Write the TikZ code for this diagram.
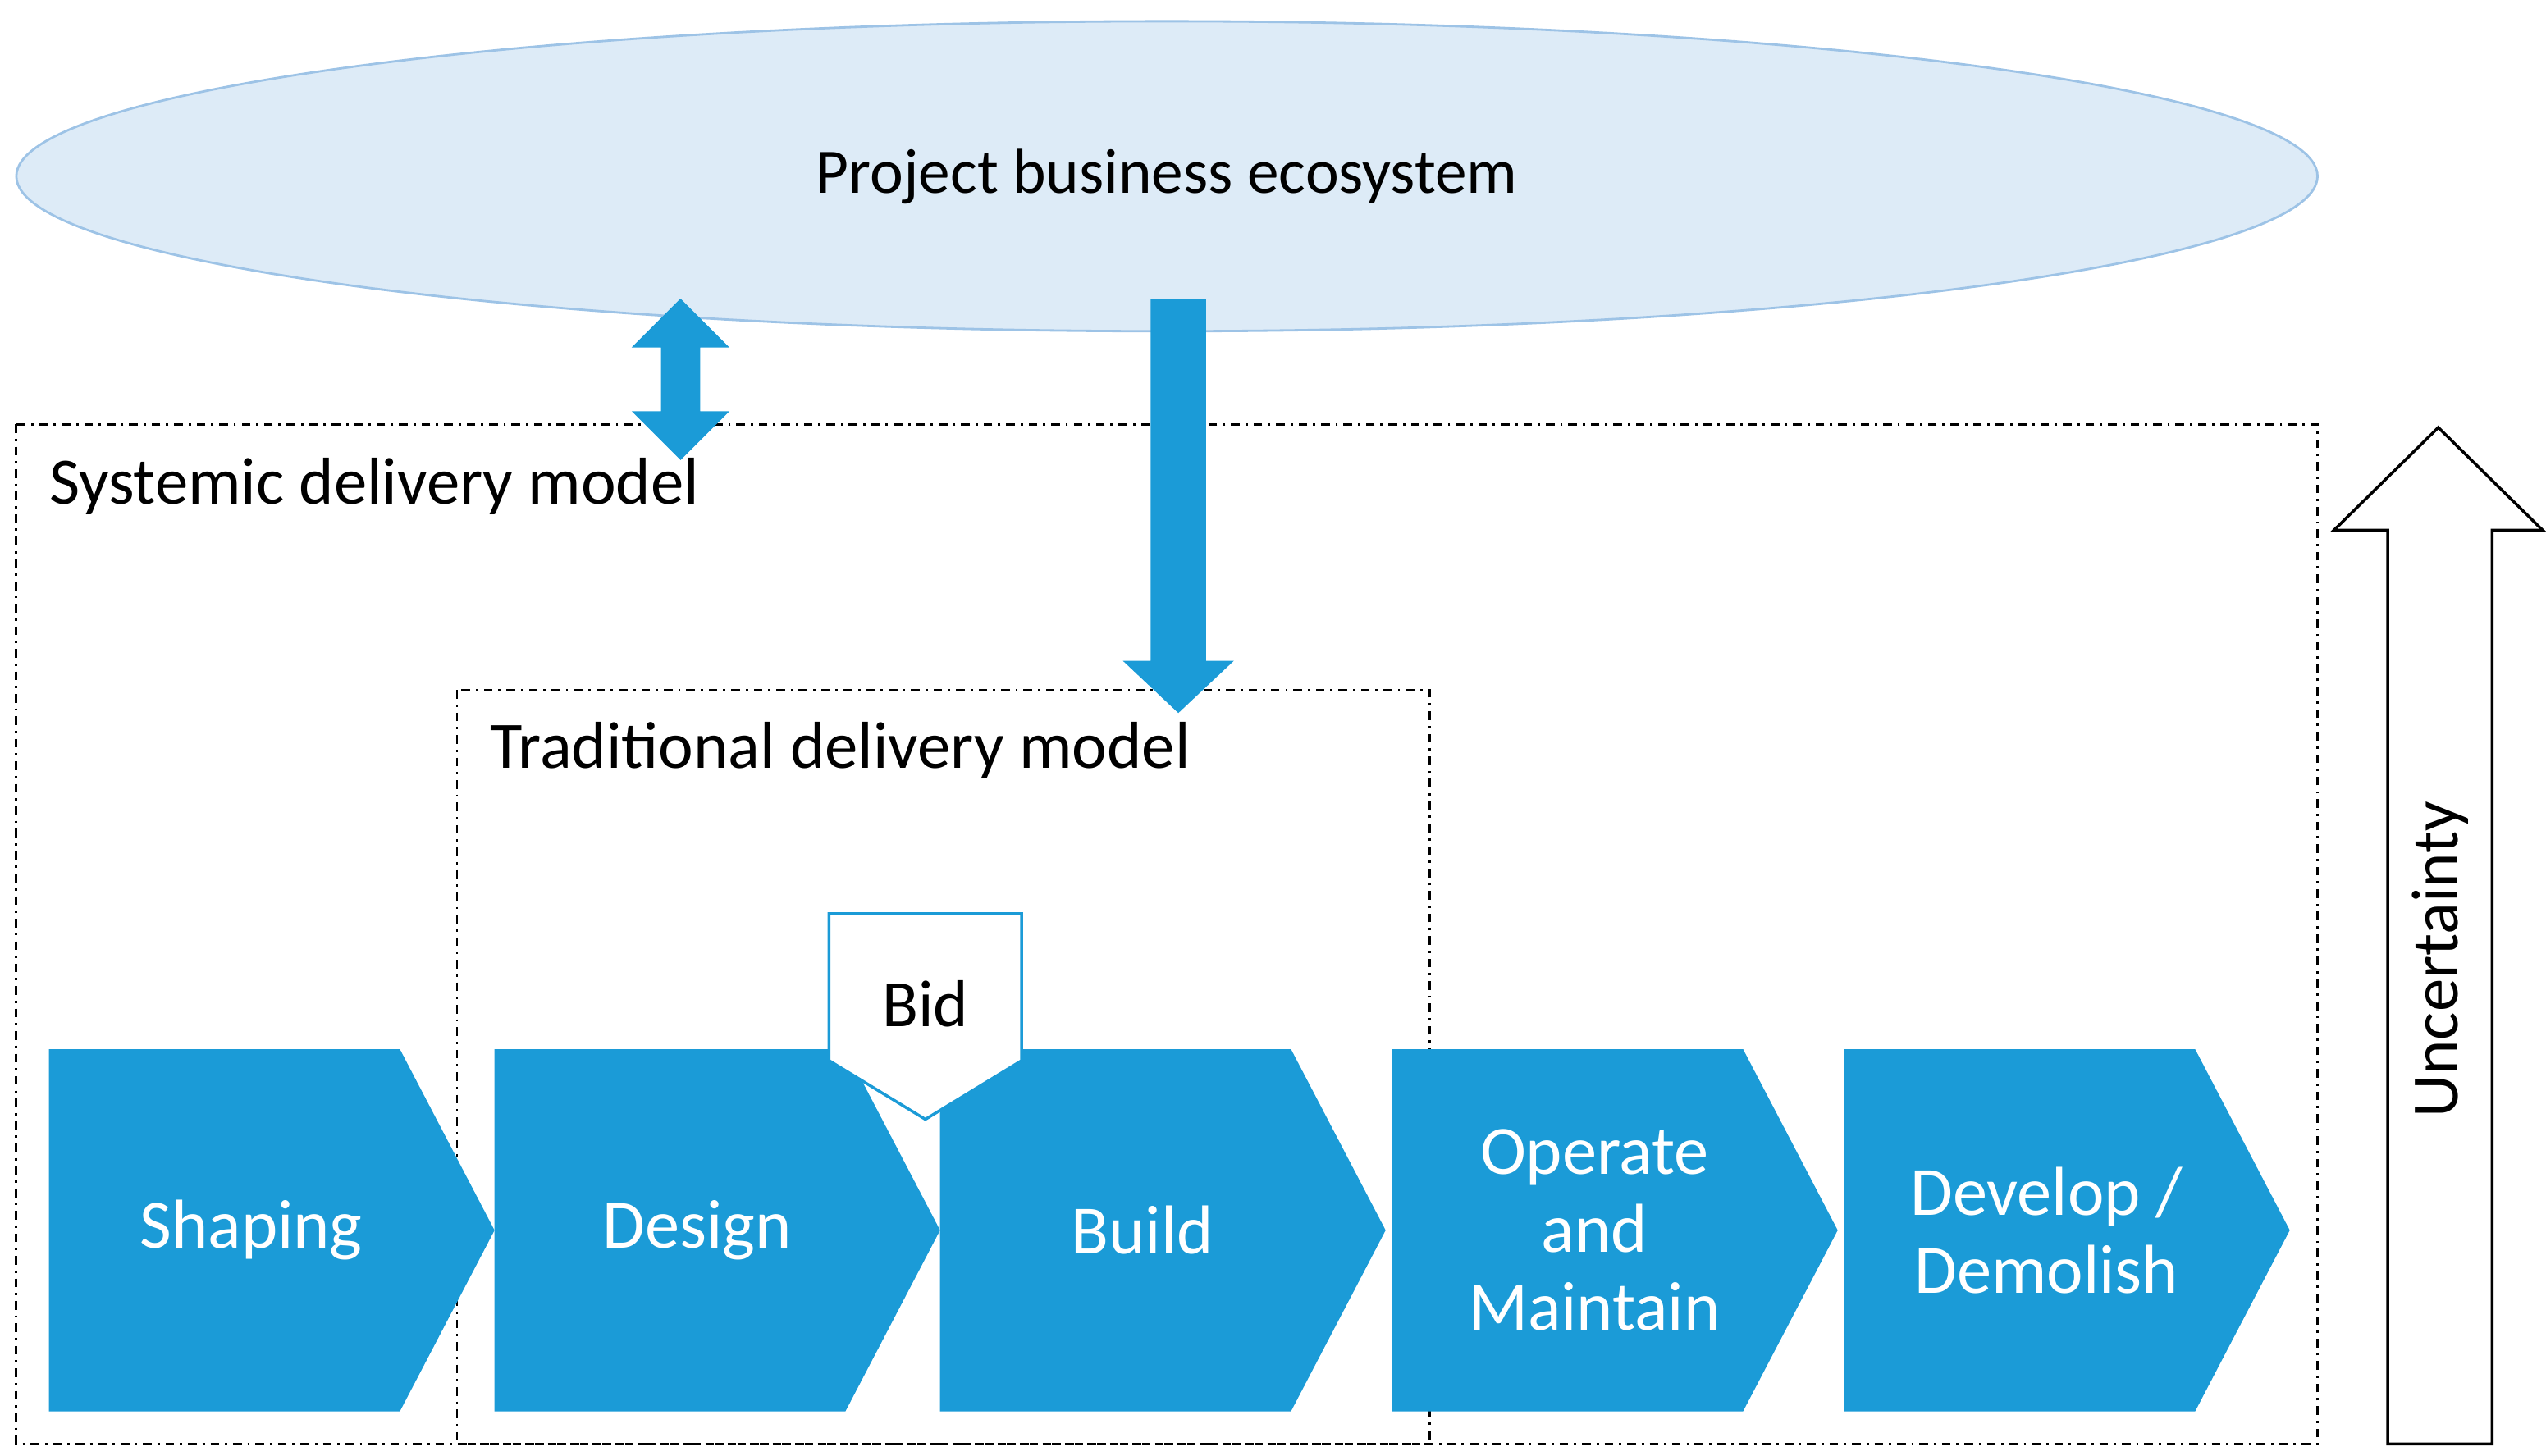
\documentclass[tikz,border=0pt]{standalone}
\usepackage{fontspec}
\setmainfont{Carlito}
\usepackage{tikz}
\usepackage{xcolor}
\definecolor{stageblue}{HTML}{1B9BD7}
\definecolor{ecofill}{HTML}{DDEBF7}
\definecolor{ecoline}{HTML}{9DC3E6}
\tikzset{
  stage/.style={stageblue,fill=stageblue},
  stagetext/.style={white,font=\fontsize{24}{27}\selectfont,align=center},
  modelbox/.style={black,line width=0.8pt,dash dot},
  modeltext/.style={anchor=west,font=\fontsize{23}{26}\selectfont}
}

\begin{document}
\begin{tikzpicture}[x=0.01989cm,y=-0.01989cm]
\useasboundingbox (0,0) rectangle (1560,891.9);
% ecosystem
\draw[ecoline,fill=ecofill,line width=0.8pt] (715,108) ellipse (705 and 95);
\node[font=\fontsize{22}{26}\selectfont] (eco) at (715,108) {Project business ecosystem};
% model boxes
\draw[modelbox] (10,260) rectangle (1420,885);
\node[modeltext] (sys) at (24,298) {Systemic delivery model};
\draw[modelbox] (280,423) rectangle (876,885);
\node[modeltext] (trad) at (294,460) {Traditional delivery model};
% arrows from ecosystem
\fill[stageblue] (417,183) -- (447,213) -- (429,213) -- (429,252) -- (447,252) -- (417,282)
  -- (387,252) -- (405,252) -- (405,213) -- (387,213) -- cycle;
\fill[stageblue] (705,183) -- (739,183) -- (739,405) -- (756,405) -- (722,437)
  -- (688,405) -- (705,405) -- cycle;
% stages
\foreach \x/\name/\txt in {30/shaping/Shaping,303/design/Design,576/build/Build,
    853/operate/{Operate\\and\\Maintain},1130/develop/{Develop /\\Demolish}}{
  \fill[stage] (\x,643) -- ++(215,0) -- ++(58,111) -- ++(-58,111) -- ++(-215,0) -- cycle;
  \node[stagetext] (\name) at (\x+124,754) {\txt};
}
% bid
\draw[stageblue,fill=white,line width=1pt] (508,560) -- (626,560) -- (626,650) -- (567,686)
  -- (508,650) -- cycle;
\node[font=\fontsize{23}{26}\selectfont] (bid) at (567,615) {Bid};
% uncertainty
\draw[black,fill=white,line width=1pt] (1463,885) -- (1463,325) -- (1430,325) -- (1494,262)
  -- (1558,325) -- (1527,325) -- (1527,885) -- cycle;
\node[rotate=90,font=\fontsize{23}{26}\selectfont] (unc) at (1495,588) {Uncertainty};
\end{tikzpicture}
\end{document}
